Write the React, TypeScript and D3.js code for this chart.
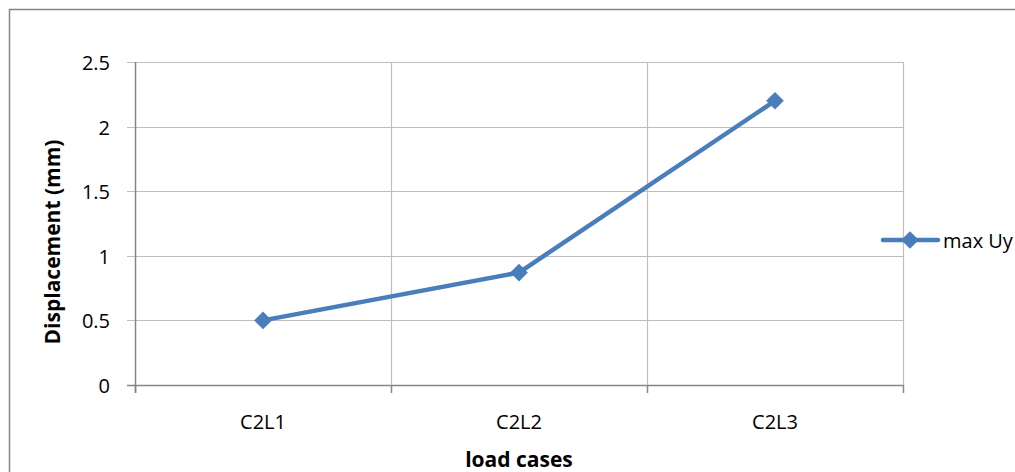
import React, { useEffect, useRef } from "react";
import * as d3 from "d3";

const categories = ["C2L1", "C2L2", "C2L3"];
const values = [0.5, 0.87, 2.2];
const yTicks = [0, 0.5, 1, 1.5, 2, 2.5];
const seriesName = "max Uy";
const xTitle = "load cases";
const yTitle = "Displacement (mm)";

const W = 1015, H = 472;
const L = 135, R = 903, T = 62, B = 385;
const FONT = "'Open Sans', 'Liberation Sans', sans-serif";
const LINE = "#4a7ebb";

export default function App() {
  const ref = useRef<SVGSVGElement>(null);
  useEffect(() => {
    const svg = d3.select(ref.current);
    svg.selectAll("*").remove();
    svg.append("rect").attr("x", 0).attr("y", 0).attr("width", W).attr("height", H).attr("fill", "#fff");
    svg.append("rect").attr("x", 9.5).attr("y", 9.5).attr("width", W + 20).attr("height", H + 20)
      .attr("fill", "none").attr("stroke", "#868686").attr("stroke-width", 1.5);

    const x = d3.scaleBand().domain(categories).range([L, R]).padding(0);
    const y = d3.scaleLinear().domain([0, 2.5]).range([B, T]);

    yTicks.forEach((t) => {
      const yy = Math.round(y(t)) + 0.5;
      svg.append("line").attr("x1", L - 8).attr("x2", R).attr("y1", yy).attr("y2", yy)
        .attr("stroke", t === 0 ? "#868686" : "#bfbfbf").attr("stroke-width", t === 0 ? 1.5 : 1.2);
      svg.append("text").attr("x", 110).attr("y", yy).attr("text-anchor", "end")
        .attr("dominant-baseline", "central").attr("font-family", FONT).attr("font-size", 20)
        .attr("fill", "#000").text(String(t));
    });
    const bounds = categories.map((c) => x(c) as number).concat([R]);
    bounds.forEach((bx, i) => {
      const xx = Math.round(bx) + 0.5;
      if (i > 0) {
        svg.append("line").attr("x1", xx).attr("x2", xx).attr("y1", T).attr("y2", B)
          .attr("stroke", "#bfbfbf").attr("stroke-width", 1.2);
      }
      svg.append("line").attr("x1", xx).attr("x2", xx).attr("y1", B).attr("y2", B + 8)
        .attr("stroke", "#868686").attr("stroke-width", 1.5);
    });
    svg.append("line").attr("x1", L + 0.5).attr("x2", L + 0.5).attr("y1", T).attr("y2", B + 8)
      .attr("stroke", "#868686").attr("stroke-width", 1.5);

    categories.forEach((c) => {
      svg.append("text").attr("x", (x(c) as number) + x.bandwidth() / 2).attr("y", 429)
        .attr("text-anchor", "middle").attr("font-family", FONT).attr("font-size", 20).text(c);
    });

    const pts = categories.map((c, i) => [(x(c) as number) + x.bandwidth() / 2, y(values[i])] as [number, number]);
    svg.append("path").attr("d", d3.line()(pts)).attr("fill", "none").attr("stroke", LINE)
      .attr("stroke-width", 4.5).attr("stroke-linejoin", "round");
    const diamond = d3.symbol().type(d3.symbolDiamond2).size(200);
    pts.forEach(([px, py]) => {
      svg.append("path").attr("d", diamond()).attr("transform", `translate(${px},${py})`)
        .attr("fill", LINE);
    });

    svg.append("text").attr("x", 519).attr("y", 467).attr("text-anchor", "middle")
      .attr("font-family", FONT).attr("font-size", 21).attr("font-weight", "bold").text(xTitle);
    svg.append("text").attr("transform", `translate(60,242) rotate(-90)`)
      .attr("text-anchor", "middle").attr("font-family", FONT).attr("font-size", 21)
      .attr("font-weight", "bold").text(yTitle);

    svg.append("line").attr("x1", 883).attr("x2", 938).attr("y1", 240).attr("y2", 240)
      .attr("stroke", LINE).attr("stroke-width", 4.5).attr("stroke-linecap", "round");
    svg.append("path").attr("d", diamond()).attr("transform", "translate(910,240)").attr("fill", LINE);
    svg.append("text").attr("x", 943).attr("y", 240).attr("dominant-baseline", "central")
      .attr("font-family", FONT).attr("font-size", 20).text(seriesName);
  }, []);
  return (
    <svg ref={ref} width={W} height={H} style={{ position: "fixed", left: 0, top: 0, display: "block" }} />
  );
}
